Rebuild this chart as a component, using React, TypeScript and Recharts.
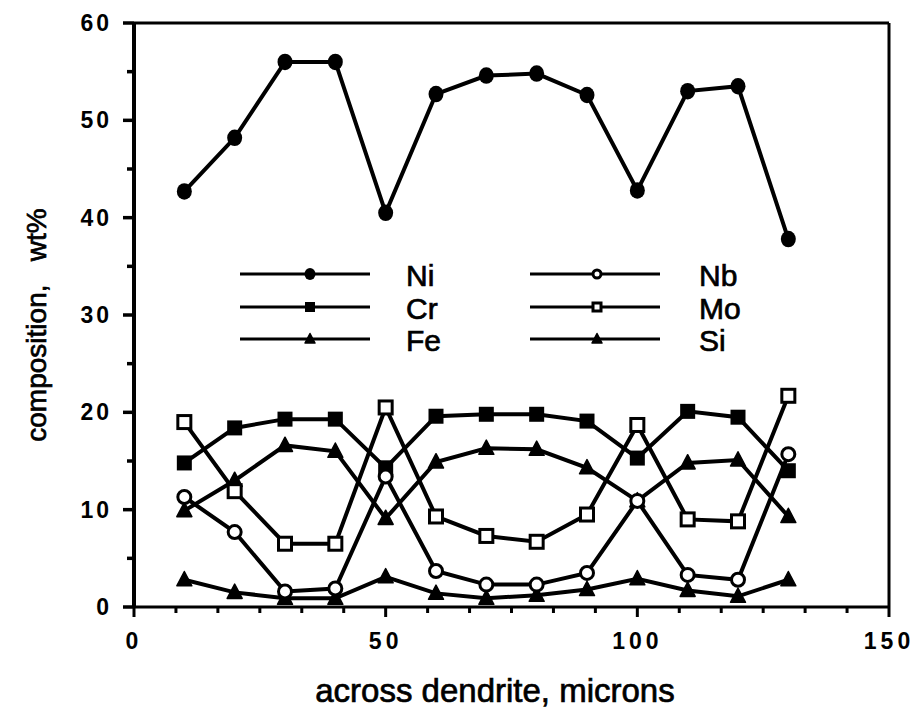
import { LineChart, Line, XAxis, YAxis, ReferenceLine } from 'recharts';

const positions = [10, 20, 30, 40, 50, 60, 70, 80, 90, 100, 110, 120, 130];
const ni = [42.7, 48.2, 56.0, 56.0, 40.5, 52.7, 54.6, 54.8, 52.6, 42.8, 53.0, 53.5, 37.8];
const cr = [14.8, 18.4, 19.3, 19.3, 14.3, 19.6, 19.8, 19.8, 19.1, 15.3, 20.1, 19.5, 14.0];
const fe = [9.9, 13.0, 16.6, 16.0, 9.1, 14.9, 16.3, 16.2, 14.3, 10.9, 14.8, 15.1, 9.3];
const nb = [11.3, 7.7, 1.6, 1.9, 13.4, 3.7, 2.3, 2.3, 3.5, 10.9, 3.3, 2.8, 15.7];
const mo = [19.0, 11.9, 6.5, 6.5, 20.5, 9.3, 7.3, 6.7, 9.5, 18.7, 9.0, 8.8, 21.7];
const si = [2.8, 1.5, 0.9, 0.9, 3.1, 1.4, 0.9, 1.2, 1.8, 2.9, 1.7, 1.1, 2.8];

const xTickValues = Array.from({ length: 19 }, (_, i) => (i * 50) / 6);
const xTickLabels = ['0', '50', '100', '150'];
const yTickValues = Array.from({ length: 13 }, (_, i) => i * 5);
const yTickLabels = ['0', '10', '20', '30', '40', '50', '60'];

const data = positions.map((x, i) => ({
  x,
  Ni: ni[i],
  Cr: cr[i],
  Fe: fe[i],
  Nb: nb[i],
  Mo: mo[i],
  Si: si[i],
}));

const FONT = '"Liberation Sans", Arial, Helvetica, sans-serif';

type Shape = 'circle' | 'square' | 'triangle' | 'ocircle' | 'osquare';

const marker = (shape: Shape, cx: number, cy: number, s: number) => {
  switch (shape) {
    case 'circle':
      return <ellipse cx={cx} cy={cy} rx={s} ry={s * 1.1} fill="#000" />;
    case 'square':
      return <rect x={cx - s} y={cy - s} width={s * 2} height={s * 2} fill="#000" />;
    case 'triangle':
      return (
        <polygon
          points={`${cx},${cy - s * 1.1} ${cx + s},${cy + s * 0.8} ${cx - s},${cy + s * 0.8}`}
          fill="#000"
          stroke="#000"
          strokeWidth={1.5}
          strokeLinejoin="round"
        />
      );
    case 'ocircle':
      return <circle cx={cx} cy={cy} r={s} fill="#fff" stroke="#000" strokeWidth={3} />;
    case 'osquare':
      return (
        <rect x={cx - s} y={cy - s} width={s * 2} height={s * 2} fill="#fff" stroke="#000" strokeWidth={3} />
      );
  }
};

const dotFor = (shape: Shape, size: number) => (props: any) => {
  const { cx, cy, index } = props;
  if (cx == null || cy == null) return <g key={index} />;
  return <g key={`${shape}-${index}`}>{marker(shape, cx, cy, size)}</g>;
};

const XTick = (props: any) => {
  const { x, y, payload } = props;
  const v = payload.value as number;
  const major = Math.abs(v / 50 - Math.round(v / 50)) < 1e-6;
  const label = major ? xTickLabels[Math.round(v / 50)] : null;
  return (
    <g>
      <line x1={x} x2={x} y1={y} y2={y + (major ? 10 : 6)} stroke="#000" strokeWidth={3} />
      {label && (
        <text x={x} y={y + 42} textAnchor="middle" fontFamily={FONT} fontWeight="bold" fontSize={23} letterSpacing={4} fill="#000">
          {label}
        </text>
      )}
    </g>
  );
};

const YTick = (props: any) => {
  const { x, y, payload } = props;
  const v = payload.value as number;
  const major = v % 10 === 0;
  const label = major ? yTickLabels[v / 10] : null;
  return (
    <g>
      <line x1={x} x2={x - (major ? 11 : 7)} y1={y} y2={y} stroke="#000" strokeWidth={3.5} />
      {label && (
        <text x={x - 22} y={y + 8} textAnchor="end" fontFamily={FONT} fontWeight="bold" fontSize={23} letterSpacing={3} fill="#000">
          {label}
        </text>
      )}
    </g>
  );
};

const legendLeft: [string, Shape, number][] = [
  ['Ni', 'circle', 5.5],
  ['Cr', 'square', 5],
  ['Fe', 'triangle', 5],
];
const legendRight: [string, Shape, number][] = [
  ['Nb', 'ocircle', 4],
  ['Mo', 'osquare', 4],
  ['Si', 'triangle', 5],
];
const legendRows = [274, 307, 339];

const LegendBox = () => (
  <g>
    {legendLeft.map(([name, shape, s], i) => (
      <g key={name}>
        <line x1={240} x2={370} y1={legendRows[i]} y2={legendRows[i]} stroke="#000" strokeWidth={3} />
        {marker(shape, 310, legendRows[i], s)}
        <text x={406} y={legendRows[i] + 12} fontFamily={FONT} fontSize={30} fill="#000" stroke="#000" strokeWidth={0.7}>
          {name}
        </text>
      </g>
    ))}
    {legendRight.map(([name, shape, s], i) => (
      <g key={name}>
        <line x1={530} x2={660} y1={legendRows[i]} y2={legendRows[i]} stroke="#000" strokeWidth={3} />
        {marker(shape, 597, legendRows[i], s)}
        <text x={699} y={legendRows[i] + 12} fontFamily={FONT} fontSize={30} fill="#000" stroke="#000" strokeWidth={0.7}>
          {name}
        </text>
      </g>
    ))}
  </g>
);

const series: [string, Shape, number][] = [
  ['Ni', 'circle', 7.5],
  ['Cr', 'square', 7.5],
  ['Fe', 'triangle', 7.5],
  ['Si', 'triangle', 7.5],
  ['Nb', 'ocircle', 6.5],
  ['Mo', 'osquare', 6.5],
];

export default function App() {
  return (
    <div style={{ width: 916, height: 711, background: '#fff' }}>
      <style>{`body{margin:0;background:#fff}`}</style>
      <LineChart width={916} height={711} data={data} margin={{ top: 23, right: 27, bottom: 44, left: 0 }}>
        <XAxis
          type="number"
          dataKey="x"
          domain={[0, 150]}
          ticks={xTickValues}
          interval={0}
          tick={<XTick />}
          tickLine={false}
          tickSize={0}
          tickMargin={0}
          axisLine={{ stroke: '#000', strokeWidth: 3 }}
          height={60}
          label={{
            content: () => (
              <text x={495} y={702} textAnchor="middle" fontFamily={FONT} fontSize={33} fill="#000" stroke="#000" strokeWidth={0.7}>
                across dendrite, microns
              </text>
            ),
          }}
        />
        <YAxis
          type="number"
          domain={[0, 60]}
          ticks={yTickValues}
          interval={0}
          tick={<YTick />}
          tickLine={false}
          tickSize={0}
          tickMargin={0}
          axisLine={{ stroke: '#000', strokeWidth: 4 }}
          width={134}
          label={{
            content: () => (
              <text
                x={46}
                y={325}
                transform="rotate(-90 46 325)"
                textAnchor="middle"
                fontFamily={FONT}
                fontSize={28}
                fill="#000"
                stroke="#000"
                strokeWidth={0.7}
                style={{ whiteSpace: 'pre' }}
              >
                {'composition,   wt%'}
              </text>
            ),
          }}
        />
        <ReferenceLine y={60} stroke="#000" strokeWidth={3} />
        <ReferenceLine x={150} stroke="#000" strokeWidth={3} />
        {series.map(([key, shape, size]) => (
          <Line
            key={key}
            type="linear"
            dataKey={key}
            stroke="#000"
            strokeWidth={4}
            dot={dotFor(shape, size)}
            activeDot={false}
            isAnimationActive={false}
          />
        ))}
        <LegendBox />
      </LineChart>
    </div>
  );
}
